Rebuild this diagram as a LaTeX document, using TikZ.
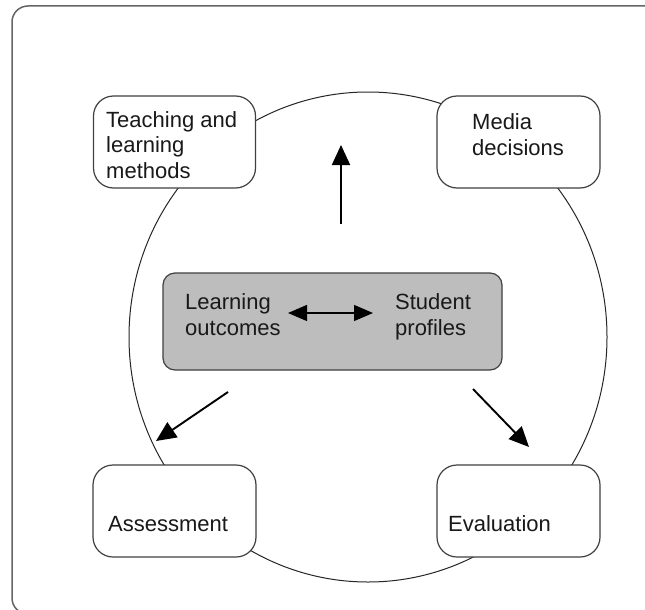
\documentclass[tikz,border=0pt]{standalone}
\usepackage{fontspec}
\setmainfont{Liberation Sans}
\usetikzlibrary{arrows.meta}
\begin{document}
\begin{tikzpicture}[x=1pt,y=-1pt,
  box/.style={draw=black!75,line width=1.2pt,fill=white,rounded corners=20pt,inner sep=0pt},
  core/.style={draw=black!75,line width=1.2pt,fill=black!26,rounded corners=12pt,inner sep=0pt},
  lbl/.style={font=\fontsize{22}{25.5}\selectfont,align=left,inner sep=0pt,anchor=base west,text=black!90},
  bigarrow/.style={line width=1.9pt,-{Triangle[length=20pt,width=18pt]}},
  dblarrow/.style={line width=1.3pt,{Triangle[length=19pt,width=16pt]}-{Triangle[length=19pt,width=16pt]}}]
\useasboundingbox (0,0) rectangle (645,610);
\fill[white] (0,0) rectangle (645,610);
% outer frame (cut off at right and bottom)
\draw[black!60,line width=1.5pt,rounded corners=16pt] (12,6) rectangle (670,614);
% circle
\draw[black!85,line width=1pt] (368,337) ellipse [x radius=239pt,y radius=245pt];
% boxes
\node[box,minimum width=162pt,minimum height=92pt] (tl) at (174.5,142) {};
\node[box,minimum width=163pt,minimum height=92pt] (md) at (518.5,142) {};
\node[core,minimum width=339pt,minimum height=97pt] (cr) at (332.5,321.5) {};
\node[box,minimum width=163pt,minimum height=92pt] (as) at (174.5,511) {};
\node[box,minimum width=163pt,minimum height=92pt] (ev) at (518.5,511) {};
% texts (base anchor = baseline of last line)
\node[lbl] (tlt) at (106,178) {Teaching and\\learning\\methods};
\node[lbl] (mdt) at (472,155) {Media\\decisions};
\node[lbl] (lo) at (185,335) {Learning\\outcomes};
\node[lbl] (sp) at (395,335) {Student\\profiles};
\node[lbl] (ast) at (108,531) {Assessment};
\node[lbl] (evt) at (448,531) {Evaluation};
% arrows
\coordinate (ua) at (341,224);
\coordinate (ub) at (341,145);
\coordinate (la) at (228,392);
\coordinate (lb) at (156,441);
\coordinate (ra) at (473,389);
\coordinate (rb) at (529,447);
\coordinate (da) at (288,313);
\coordinate (db) at (373,313);
\draw[bigarrow] (ua) -- (ub);
\draw[bigarrow] (la) -- (lb);
\draw[bigarrow] (ra) -- (rb);
\draw[dblarrow] (da) -- (db);
\end{tikzpicture}
\end{document}
